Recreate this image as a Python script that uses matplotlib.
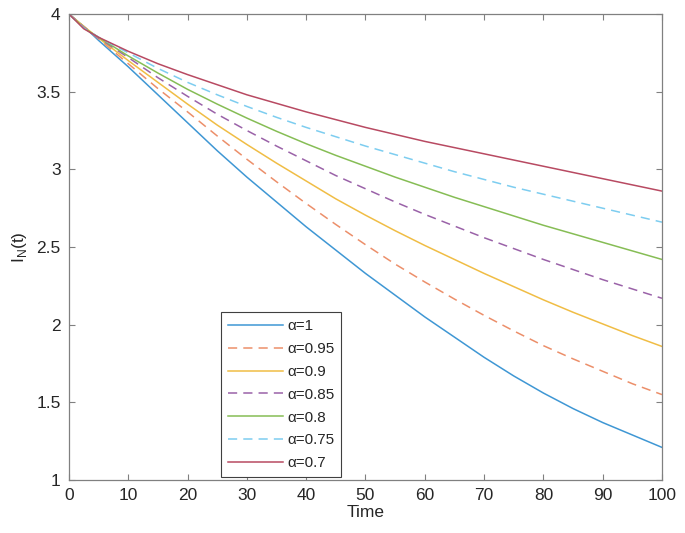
import numpy as np
import matplotlib.pyplot as plt

plt.rcParams['font.family'] = ['Liberation Sans', 'DejaVu Sans']

# Tiempo
t = [0, 2.5, 5, 10, 15, 20, 25, 30, 35, 40, 45, 50, 55, 60, 65, 70, 75, 80, 85, 90, 95, 100]

# I_N(t) para cada orden alpha
I_a100 = [4.00, 3.92, 3.83, 3.66, 3.48, 3.30, 3.12, 2.95, 2.79, 2.63, 2.48, 2.33,
          2.19, 2.05, 1.92, 1.79, 1.67, 1.56, 1.46, 1.37, 1.29, 1.21]
I_a095 = [4.00, 3.92, 3.84, 3.68, 3.52, 3.37, 3.215, 3.065, 2.92, 2.78, 2.645, 2.515,
          2.39, 2.275, 2.165, 2.06, 1.96, 1.865, 1.78, 1.70, 1.62, 1.55]
I_a090 = [4.00, 3.92, 3.845, 3.70, 3.56, 3.42, 3.285, 3.16, 3.04, 2.925, 2.81, 2.705,
          2.605, 2.51, 2.42, 2.33, 2.245, 2.16, 2.08, 2.005, 1.93, 1.86]
I_a085 = [4.00, 3.915, 3.845, 3.72, 3.59, 3.47, 3.355, 3.25, 3.15, 3.055, 2.96, 2.875,
          2.79, 2.71, 2.635, 2.56, 2.49, 2.42, 2.355, 2.29, 2.23, 2.17]
I_a080 = [4.00, 3.91, 3.85, 3.73, 3.62, 3.515, 3.42, 3.33, 3.245, 3.165, 3.09, 3.02,
          2.95, 2.885, 2.82, 2.76, 2.70, 2.64, 2.585, 2.53, 2.475, 2.42]
I_a075 = [4.00, 3.91, 3.85, 3.75, 3.65, 3.56, 3.48, 3.405, 3.335, 3.27, 3.21, 3.15,
          3.095, 3.04, 2.985, 2.935, 2.885, 2.84, 2.795, 2.75, 2.705, 2.66]
I_a070 = [4.00, 3.905, 3.85, 3.76, 3.68, 3.61, 3.545, 3.48, 3.425, 3.37, 3.32, 3.27,
          3.225, 3.18, 3.14, 3.10, 3.06, 3.02, 2.98, 2.94, 2.90, 2.86]

series = [I_a100, I_a095, I_a090, I_a085, I_a080, I_a075, I_a070]
labels = ['\u03b1=1', '\u03b1=0.95', '\u03b1=0.9', '\u03b1=0.85', '\u03b1=0.8', '\u03b1=0.75', '\u03b1=0.7']
colores = ['#3f97d4', '#ec8f6a', '#f0bd45', '#9a62a8', '#86bd55', '#7dcdf0', '#b84a62']
estilos = ['-', '--', '-', '--', '-', '--', '-']

fig = plt.figure(figsize=(6.85, 5.33), dpi=100)
ax = fig.add_axes([0.1007, 0.0994, 0.8657, 0.8743])

for y, lab, c, ls in zip(series, labels, colores, estilos):
    ax.plot(t, y, ls, color=c, linewidth=1.1, label=lab,
            dashes=(6, 4) if ls == '--' else (None, None))

ax.set_xlim(0, 100)
ax.set_ylim(1, 4)
ax.set_xticks(np.arange(0, 101, 10))
ax.set_yticks([1, 1.5, 2, 2.5, 3, 3.5, 4])
ax.set_yticklabels(['1', '1.5', '2', '2.5', '3', '3.5', '4'])

gris = '#262626'
for s in ax.spines.values():
    s.set_color('#808080')
    s.set_linewidth(0.9)
ax.tick_params(direction='in', top=True, right=True, length=4,
               color='#808080', labelsize=12.5, labelcolor=gris, pad=6)

ax.set_xlabel('Time', fontsize=12.5, color=gris, labelpad=1)
ax.set_ylabel('I$_\\mathregular{N}$(t)', fontsize=12.5, color=gris, labelpad=5)

leg = ax.legend(loc='lower left', bbox_to_anchor=(0.256, 0.006), borderaxespad=0,
                fontsize=11, handlelength=3.6, handletextpad=0.3, labelspacing=0.58,
                borderpad=0.45, fancybox=False, framealpha=1)
leg.get_frame().set_edgecolor('#404040')
leg.get_frame().set_linewidth(0.8)
for txt in leg.get_texts():
    txt.set_color(gris)

fig.savefig('out.png', dpi=100)
